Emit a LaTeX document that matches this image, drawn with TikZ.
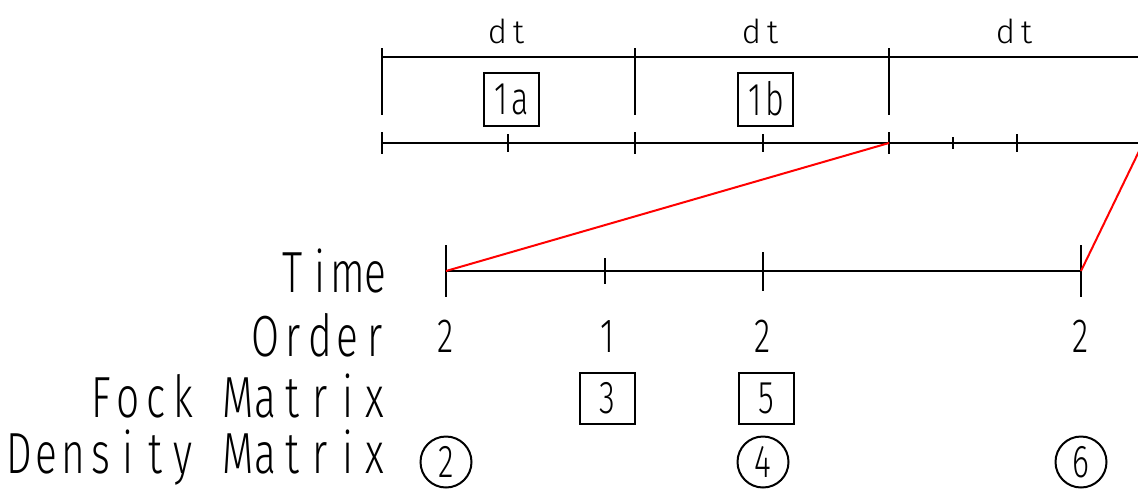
\documentclass[tikz,border=0pt]{standalone}
\usepackage{fontspec}
\setmainfont{Fira Sans Light}[FakeStretch=0.7]
\newfontfamily\widefont{Fira Sans Light}
\makeatletter
\newlength\cellw
\newcommand\mono[2]{\setlength\cellw{#1}\mono@loop#2\@nil}
\def\mono@loop#1{\ifx#1\@nil\else\makebox[\cellw][c]{#1}\expandafter\mono@loop\fi}
\makeatother
\begin{document}
\begin{tikzpicture}[x=1pt,y=-1pt,
  ax/.style={line width=2pt},
  redline/.style={draw=red, line width=2pt},
  lab/.style={anchor=base east, inner sep=0pt, font=\fontsize{58}{60}\selectfont},
  num/.style={anchor=base, inner sep=0pt, font=\fontsize{48}{50}\selectfont},
  dtlab/.style={anchor=base, inner sep=0pt, font=\widefont\fontsize{33}{35}\selectfont},
  sq/.style={draw, line width=2pt, minimum width=55pt, minimum height=53pt, inner sep=0pt, font=\fontsize{46}{48}\selectfont},
  circ/.style={draw, circle, line width=2pt, minimum size=51pt, inner sep=0pt, font=\fontsize{46}{48}\selectfont}]
\useasboundingbox (0,0) rectangle (1138,488);
\clip (0,0) rectangle (1138,488);

% top dimension line
\coordinate (d0) at (382,57);
\coordinate (dend) at (1160,57);
\draw[ax] (d0) -- (dend);
\foreach \x in {382,635,889} \draw[ax] (\x,48) -- (\x,115);
\node[dtlab] (dt1) at (508,43) {\mono{21pt}{dt}};
\node[dtlab] (dt2) at (762,43) {\mono{21pt}{dt}};
\node[dtlab] (dt3) at (1016,43) {\mono{21pt}{dt}};
\node[sq] (s1a) at (511,99) {\mono{19pt}{1a}};
\node[sq] (s1b) at (765,99) {\mono{19pt}{1b}};

% fine time axis
\coordinate (f0) at (382,143);
\coordinate (f2) at (889,143);
\coordinate (f3) at (1143,143);
\coordinate (fend) at (1160,143);
\draw[ax] (f0) -- (fend);
\foreach \x in {382,635,889,1143} \draw[ax] (\x,132) -- (\x,154);
\foreach \x in {508,763,1017} \draw[ax] (\x,134) -- (\x,152);
\draw[ax] (953,137) -- (953,149);

% coarse time axis
\coordinate (c0) at (446,271);
\coordinate (c1) at (1081,271);
\draw[ax] (c0) -- (c1);
\draw[ax] (446,245) -- (446,297);
\draw[ax] (605,258) -- (605,284);
\draw[ax] (763,252) -- (763,291);
\draw[ax] (1081,245) -- (1081,297);

% red links
\draw[redline] (c0) -- (f2);
\draw[redline] (c1) -- (f3);

% row labels
\node[lab] (ltime) at (389,292) {\mono{27.4pt}{Time}};
\node[lab] (lorder) at (389,356) {\mono{27.4pt}{Order}};
\node[lab] (lfock) at (389,417) {\mono{27.4pt}{Fock~Matrix}};
\node[lab] (ldens) at (389,473) {\mono{27.4pt}{Density~Matrix}};

% order numbers
\node[num] (o1) at (446,352) {2};
\node[num] (o2) at (607,352) {1};
\node[num] (o3) at (763,352) {2};
\node[num] (o4) at (1081,352) {2};

% Fock matrix boxes
\node[sq, minimum height=51pt] (f3box) at (607,398) {3};
\node[sq, minimum height=51pt] (f5box) at (766,398) {5};

% density matrix circles
\node[circ] (p2) at (446,462) {2};
\node[circ] (p4) at (763,462) {4};
\node[circ] (p6) at (1081,462) {6};
\end{tikzpicture}
\end{document}
